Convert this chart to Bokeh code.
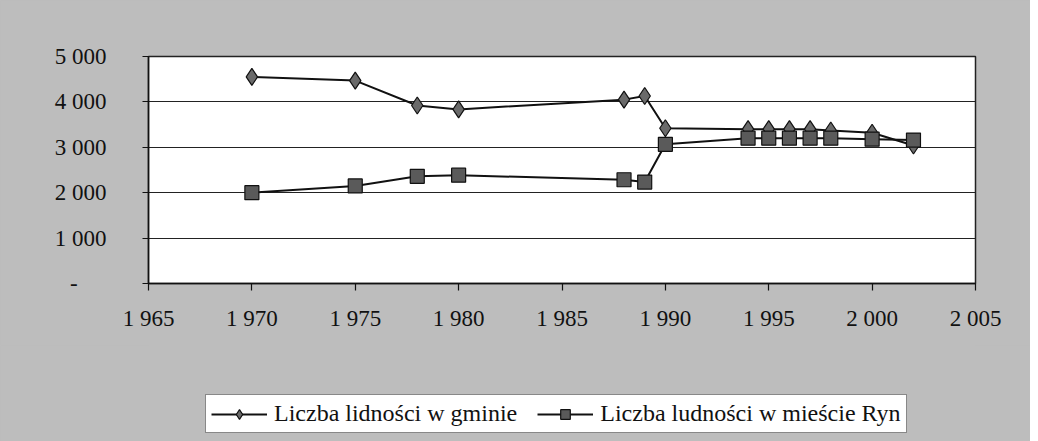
from bokeh.plotting import figure
from bokeh.layouts import column
from bokeh.models import FixedTicker, Legend, LegendItem
from bokeh.embed import file_html
from bokeh.resources import INLINE

years = [1970, 1975, 1978, 1980, 1988, 1989, 1990, 1994, 1995, 1996, 1997, 1998, 2000, 2002]
gmina = [4550, 4470, 3920, 3835, 4050, 4130, 3420, 3400, 3400, 3400, 3400, 3370, 3320, 3040]
ryn = [2000, 2150, 2360, 2385, 2285, 2235, 3065, 3200, 3200, 3200, 3200, 3200, 3180, 3160]

x_ticks = [1965, 1970, 1975, 1980, 1985, 1990, 1995, 2000, 2005]
x_labels = ["1 965", "1 970", "1 975", "1 980", "1 985", "1 990", "1 995", "2 000", "2 005"]
y_ticks = [0, 1000, 2000, 3000, 4000, 5000]
y_labels = ["-\u00a0\u00a0\u00a0\u00a0\u00a0", "1 000", "2 000", "3 000", "4 000", "5 000"]
series_names = ["Liczba lidności w gminie", "Liczba ludności w mieście Ryn"]

FONT = "Liberation Serif"
GRAY = "#bdbdbd"
INK = "#111111"

# ---- main chart ----
p = figure(width=1030, height=345, output_backend="svg", toolbar_location=None,
           x_range=(1965, 2005), y_range=(0, 5000),
           min_border_left=148, min_border_right=55, min_border_top=56, min_border_bottom=62)
p.background_fill_color = "white"
p.border_fill_color = GRAY
p.outline_line_color = "#222222"
p.outline_line_width = 1.5

p.xgrid.visible = False
p.ygrid.grid_line_color = "#222222"
p.ygrid.grid_line_width = 1.2
p.ygrid.ticker = FixedTicker(ticks=y_ticks)

for ax in (p.xaxis[0], p.yaxis[0]):
    ax.axis_line_color = INK
    ax.axis_line_width = 1.5
    ax.major_tick_line_color = INK
    ax.major_tick_line_width = 1.2
    ax.minor_tick_line_color = None
    ax.major_tick_in = 0
    ax.major_label_text_font = FONT
    ax.major_label_text_font_size = "23px"
    ax.major_label_text_color = INK

p.xaxis.ticker = FixedTicker(ticks=x_ticks)
p.xaxis.major_label_overrides = dict(zip(x_ticks, x_labels))
p.xaxis.major_tick_out = 7
p.xaxis.major_label_standoff = 15

p.yaxis.ticker = FixedTicker(ticks=y_ticks)
p.yaxis.major_label_overrides = dict(zip(y_ticks, y_labels))
p.yaxis.major_tick_out = 6
p.yaxis.major_label_standoff = 36

line_style = dict(line_color=INK, line_width=2)
diamond_style = dict(marker="diamond", size=17,
                     fill_color="#6a6a6a", line_color=INK, line_width=1.2)
square_style = dict(marker="square", size=14,
                    fill_color="#5a5a5a", line_color=INK, line_width=1.2)

p.line(years, gmina, **line_style)
p.scatter(years, gmina, **diamond_style)
p.line(years, ryn, **line_style)
p.scatter(years, ryn, **square_style)

# ---- legend strip (same gray background); its renderers use the same data,
# but its ranges keep them out of view so only the legend shows ----
q = figure(width=1030, height=96, output_backend="svg", toolbar_location=None,
           x_range=(0, 1), y_range=(0, 1),
           min_border_left=148, min_border_right=55, min_border_top=0, min_border_bottom=0)
q.axis.visible = False
q.grid.visible = False
q.outline_line_color = None
q.background_fill_color = GRAY
q.border_fill_color = GRAY

ql1 = q.line(years, gmina, **line_style)
qs1 = q.scatter(years, gmina, **diamond_style)
ql2 = q.line(years, ryn, **line_style)
qs2 = q.scatter(years, ryn, **square_style)

legend = Legend(items=[LegendItem(label=series_names[0], renderers=[ql1, qs1]),
                       LegendItem(label=series_names[1], renderers=[ql2, qs2])],
                location=(57, 8), orientation="horizontal",
                label_text_font=FONT, label_text_font_size="24px", label_text_color=INK,
                glyph_width=56, glyph_height=24, label_standoff=7, spacing=20,
                padding=5, margin=0,
                border_line_color=INK, border_line_width=1.5,
                background_fill_color="white", background_fill_alpha=1.0)
q.add_layout(legend, "center")

layout = column(p, q, spacing=0, styles={"background-color": GRAY})
open("out.html", "w").write(file_html(layout, INLINE))
